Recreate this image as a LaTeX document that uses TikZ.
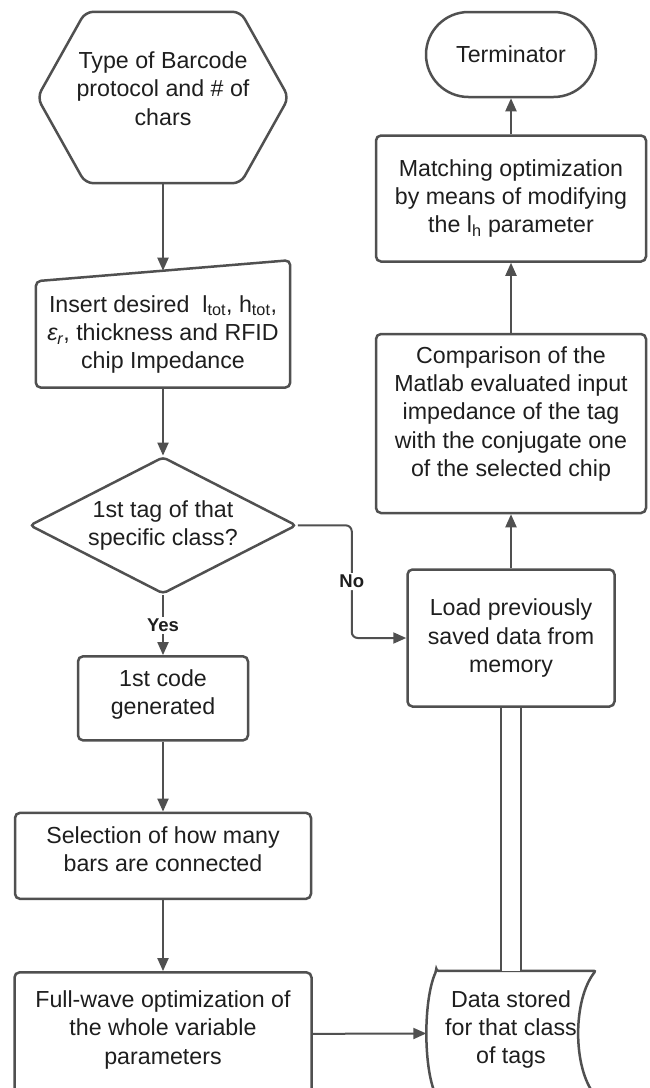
\documentclass[tikz,border=0pt]{standalone}
\usepackage{fontspec}
\setmainfont{Liberation Sans}
\usepackage{tikz}
\usetikzlibrary{positioning,arrows.meta,shapes.geometric,shapes.misc,calc}
\definecolor{linegray}{HTML}{505050}
\definecolor{textgray}{HTML}{1E1E1E}
% extra depth under the last line, lifts the text a little
\newcommand{\bottomgap}[1]{\rule[-#1]{0pt}{#1}}

\begin{document}
\begin{tikzpicture}[x=1pt, y=-1pt,
  every node/.style={text=textgray, font=\fontsize{23.2}{28.3}\selectfont, align=center, inner sep=0pt},
  box/.style={draw=linegray, line width=2.5pt, rectangle, rounded corners=5pt},
  textonly/.style={rectangle},
  shapeline/.style={draw=linegray, line width=2.5pt, rounded corners=5pt},
  flow/.style={-{Triangle[length=13pt,width=11pt]}, draw=linegray, line width=2pt},
  lbl/.style={fill=white, font=\bfseries\fontsize{18.5}{22}\selectfont, inner sep=2pt}]

\useasboundingbox (0,0) rectangle (650,1088);

% Left column
\node[textonly, minimum width=251pt, minimum height=171pt] (protocol) at (163,97.5) {Type of Barcode\\protocol and \# of\\chars\bottomgap{18pt}};
\node[textonly, minimum width=254pt, minimum height=106pt, below=98pt of protocol] (params) {Insert desired\ \ l\textsubscript{tot}, h\textsubscript{tot},\\\textit{ε\textsubscript{r}}, thickness and RFID\\chip Impedance};
\node[diamond, aspect=1.95, draw=linegray, line width=2.5pt, rounded corners=4pt, minimum width=267pt, minimum height=137pt, below=68pt of params] (firsttag) {1st tag of that\\specific class?};
\node[box, minimum width=170pt, minimum height=84pt, below=60pt of firsttag] (firstcode) {1st code\\generated\bottomgap{13pt}};
\node[box, minimum width=296pt, minimum height=86pt, below=70pt of firstcode] (selection) {Selection of how many\\bars are connected\bottomgap{13pt}};
\node[box, minimum width=297pt, minimum height=123pt, below=71pt of selection] (fullwave) {Full-wave optimization of\\the whole variable\\parameters\bottomgap{13pt}};

% Right column
\node[rounded rectangle, draw=linegray, line width=2.5pt, minimum width=170pt, minimum height=85pt] (terminator) at (511,54.5) {Terminator};
\node[box, minimum width=270pt, minimum height=126pt, below=36pt of terminator] (matching) {Matching optimization\\by means of modifying\\the l\textsubscript{h} parameter};
\node[box, minimum width=270pt, minimum height=179pt, below=70pt of matching] (comparison) {Comparison of the\\Matlab evaluated input\\impedance of the tag\\with the conjugate one\\of the selected chip\bottomgap{24pt}};
\node[box, minimum width=207pt, minimum height=137pt, below=54pt of comparison] (loaddata) {Load previously\\saved data from\\memory};
\node[textonly, minimum width=169pt, minimum height=125pt, below=263pt of loaddata] (stored) {Data stored\\for that class\\of tags\bottomgap{13pt}};

% Outlines
\draw[shapeline, rounded corners=8pt] (protocol.north) -- ($(protocol.north east)+(-48,0)$) -- (protocol.east)
  -- ($(protocol.south east)+(-48,0)$) -- ($(protocol.south west)+(48,0)$) -- (protocol.west)
  -- ($(protocol.north west)+(48,0)$) -- cycle;
\draw[shapeline] ([yshift=10.5pt]params.north) -- ([yshift=21pt]params.north east) -- (params.south east)
  -- (params.south west) -- (params.north west) -- cycle;
\draw[shapeline, rounded corners=2pt] ($(stored.north west)+(10,0)$) -- (stored.north east)
  .. controls +(-23,29) and +(-23,-29) .. (stored.south east)
  -- ($(stored.south west)+(10,0)$)
  .. controls +(-13,-29) and +(-13,29) .. ($(stored.north west)+(10,0)$) -- cycle;

% Arrows
\draw[flow] (protocol.south) -- ([yshift=10.5pt]params.north);
\draw[flow] (params.south) -- (firsttag.north);
\draw[flow] (firsttag.south) -- node[lbl] {Yes} (firstcode.north);
\draw[flow] (firstcode) -- (selection);
\draw[flow] (selection) -- (fullwave);
\draw[flow] (fullwave.east) -- (stored.west);
\draw[flow, rounded corners=6pt] (firsttag.east) -- ++(54,0) |- node[lbl, pos=0.25] {No} (loaddata.west);
\draw[draw=linegray, double=white, double distance=17.8pt, line width=2.2pt] (loaddata.south) -- (stored.north);
\draw[flow] (loaddata) -- (comparison);
\draw[flow] (comparison) -- (matching);
\draw[flow] (matching) -- (terminator);

\end{tikzpicture}
\end{document}
